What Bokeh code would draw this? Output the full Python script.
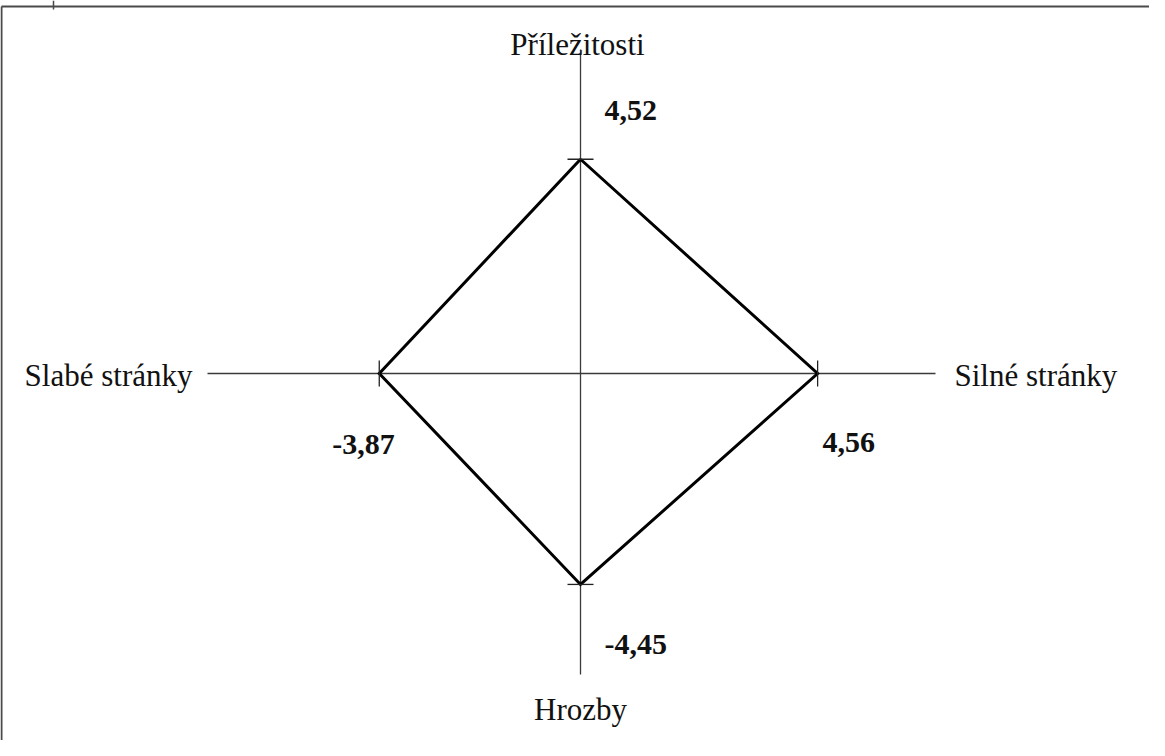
import math
from bokeh.plotting import figure
from bokeh.models import Range1d, ColumnDataSource
from bokeh.core.properties import value
from bokeh.embed import file_html
from bokeh.resources import INLINE

# ---------------- data ----------------
categories = ["Příležitosti", "Silné stránky", "Hrozby", "Slabé stránky"]
scores = [4.52, 4.56, -4.45, -3.87]
score_labels = ["4,52", "4,56", "-4,45", "-3,87"]
orientation = ["y", "x", "y", "x"]

# ---------------- layout ----------------
W, H = 1149, 740
PAGE = 8
X0, Y0 = 588, 381      # page pixel of the origin
SX, SY = 52.0, 47.4    # pixels per unit


def dx(px):
    return (px - X0) / SX


def dy(py):
    return (Y0 - py) / SY


SERIF = value("Liberation Serif")

p = figure(width=W, height=H,
           x_range=Range1d(dx(PAGE), dx(PAGE + W)),
           y_range=Range1d(dy(PAGE + H), dy(PAGE)),
           output_backend="svg", toolbar_location=None,
           x_axis_location=None, y_axis_location=None,
           min_border=0, outline_line_color=None,
           background_fill_color="white", border_fill_color="white")
p.grid.visible = False

# outer frame (top and left edges visible)
p.segment(x0=[dx(9), dx(9)], y0=[dy(14), dy(14)],
          x1=[dx(9), dx(1200)], y1=[dy(800), dy(14)],
          line_color="#4a4a4a", line_width=2)
p.segment(x0=[dx(61)], y0=[dy(8)], x1=[dx(61)], y1=[dy(17)],
          line_color="#4a4a4a", line_width=1.5)

# axes cross
p.segment(x0=[dx(215), 0], y0=[0, dy(57)], x1=[dx(943), 0], y1=[0, dy(682)],
          line_color="#3a3a3a", line_width=1.3)

# vertices from data
vx = [s if o == "x" else 0.0 for s, o in zip(scores, orientation)]
vy = [s if o == "y" else 0.0 for s, o in zip(scores, orientation)]

p.line(vx + [vx[0]], vy + [vy[0]], line_color="black", line_width=3,
       line_join="miter")

tick_src = ColumnDataSource(dict(
    x=vx, y=vy,
    angle=[math.pi / 2 if o == "x" else 0.0 for o in orientation]))
p.scatter("x", "y", source=tick_src, marker="dash", size=26, angle="angle",
          line_color="#222222", line_width=1.3)

# value labels
val_src = ColumnDataSource(dict(
    x=vx, y=vy, text=score_labels,
    xo=[24, 5, 24, -47], yo=[-49, 69, 60, 71]))
p.text("x", "y", text="text", source=val_src, x_offset="xo", y_offset="yo",
       text_font=SERIF, text_font_style="bold", text_font_size="30px",
       text_color="#111111", text_align="left", text_baseline="alphabetic")

# category labels at the axis ends
cat_src = ColumnDataSource(dict(
    x=[0, dx(943), 0, dx(215)],
    y=[dy(57), 0, dy(682), 0],
    text=categories,
    align=["center", "left", "center", "right"],
    xo=[-3, 19, 0, -15], yo=[-5, 2, 35, 2]))
p.text("x", "y", text="text", source=cat_src, x_offset="xo", y_offset="yo",
       text_font=SERIF, text_font_size="31px", text_color="#111111",
       text_align="align", text_baseline="alphabetic")

open("out.html", "w").write(file_html(p, INLINE))
